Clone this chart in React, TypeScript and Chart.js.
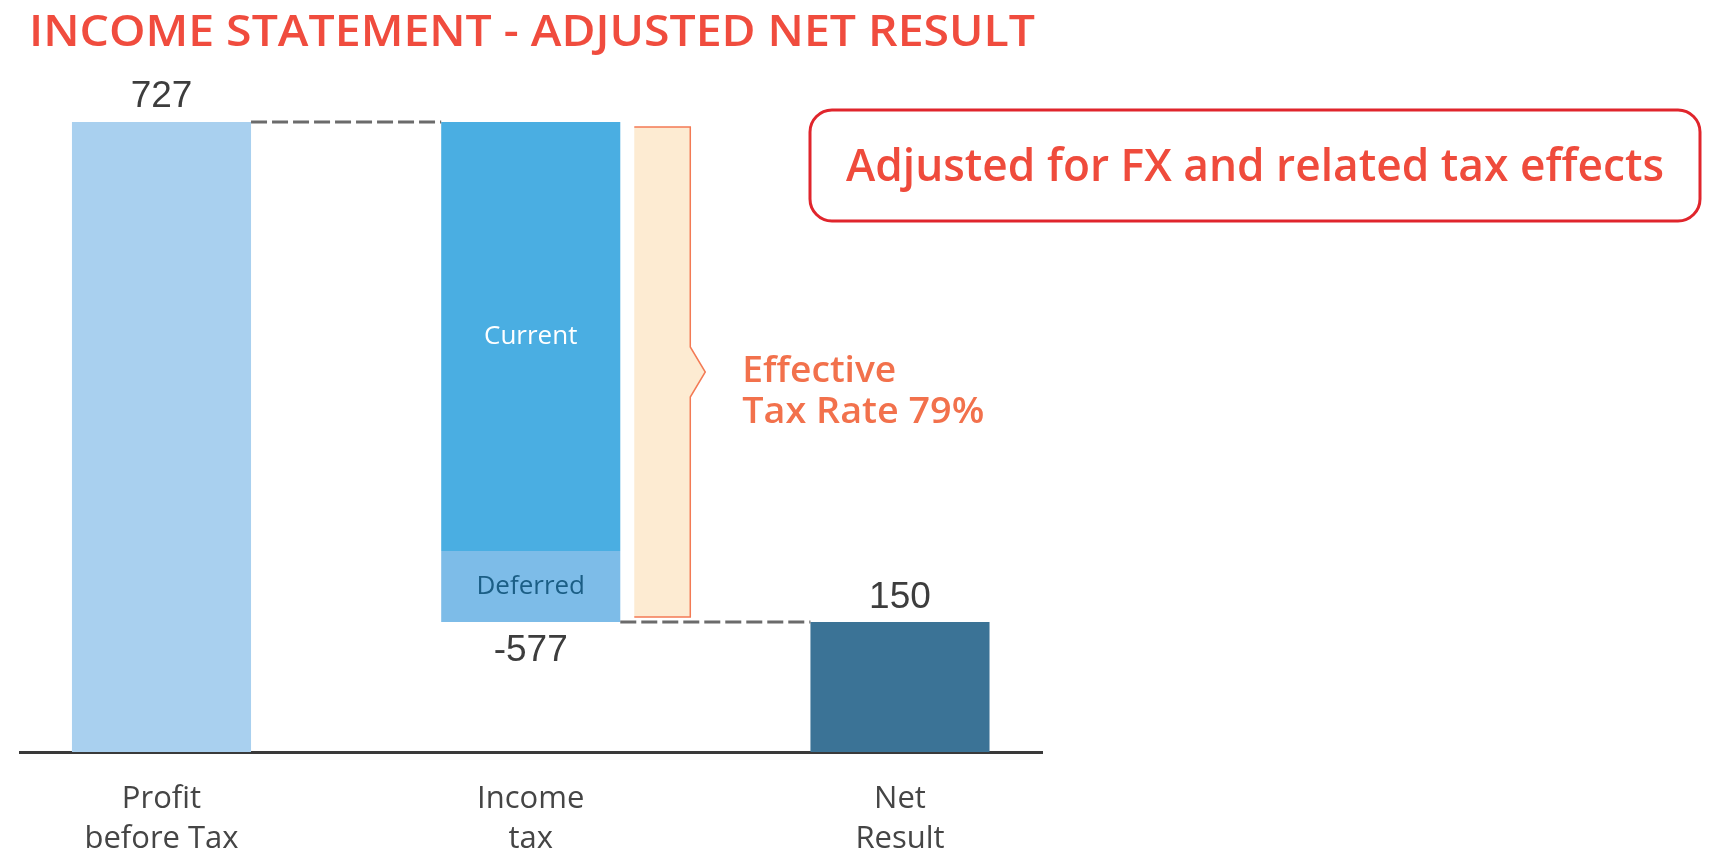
import React, { useEffect, useRef } from "react";
import { Chart, registerables } from "chart.js";

Chart.register(...registerables);

// ---- data ----
const categories: string[][] = [["Profit", "before Tax"], ["Income", "tax"], ["Net", "Result"]];
const profitBeforeTax = 727;
const taxCurrent = -495;
const taxDeferred = -82;
const netResult = 150;
const valueLabels = ["727", "-577", "150"];
const segmentLabels = ["Current", "Deferred"];
const titleText = "INCOME STATEMENT - ADJUSTED NET RESULT";
const noteText = "Adjusted for FX and related tax effects";
const rateLines = ["Effective", "Tax Rate 79%"];

const SANS = "'Open Sans', Lato, sans-serif";
const NUM = "'Liberation Sans', Arial, sans-serif";

function fitText(ctx: CanvasRenderingContext2D, text: string, x: number, y: number, width: number, align: CanvasTextAlign) {
  const w = ctx.measureText(text).width || 1;
  ctx.save();
  ctx.translate(x, y);
  ctx.scale(width / w, 1);
  ctx.textAlign = align;
  ctx.fillText(text, 0, 0);
  ctx.restore();
}

const overlayPlugin = {
  id: "overlay",
  afterDatasetsDraw(chart: any) {
    const ctx = chart.ctx as CanvasRenderingContext2D;
    const b0 = chart.getDatasetMeta(0).data[0];
    const bCur = chart.getDatasetMeta(1).data[0];
    const bDef = chart.getDatasetMeta(2).data[0];
    const b3 = chart.getDatasetMeta(3).data[0];
    const half0 = b0.width / 2;
    const half1 = bCur.width / 2;
    const half3 = b3.width / 2;
    const top0 = Math.min(b0.y, b0.base);
    const top1 = Math.min(bCur.y, bCur.base);
    const bottom1 = Math.max(bDef.y, bDef.base);
    const top3 = Math.min(b3.y, b3.base);

    ctx.save();
    // connectors
    ctx.strokeStyle = "#6b6b6b";
    ctx.lineWidth = 3;
    ctx.setLineDash([16, 5]);
    ctx.beginPath();
    ctx.moveTo(b0.x + half0, top0);
    ctx.lineTo(bCur.x - half1, top0);
    ctx.moveTo(bDef.x + half1, bottom1);
    ctx.lineTo(b3.x - half3, bottom1);
    ctx.stroke();
    ctx.setLineDash([]);

    // value labels
    ctx.fillStyle = "#3d3d3d";
    ctx.font = `37px ${NUM}`;
    ctx.textAlign = "center";
    ctx.textBaseline = "alphabetic";
    ctx.fillText(valueLabels[0], b0.x, top0 - 15);
    ctx.fillText(valueLabels[1], bDef.x, bottom1 + 39);
    ctx.fillText(valueLabels[2], b3.x, top3 - 14);

    // segment labels
    ctx.textBaseline = "middle";
    ctx.font = `26px ${SANS}`;
    ctx.fillStyle = "#ffffff";
    ctx.fillText(segmentLabels[0], bCur.x, (bCur.y + bCur.base) / 2);
    ctx.fillStyle = "#1b5e85";
    ctx.fillText(segmentLabels[1], bDef.x, (bDef.y + bDef.base) / 2);

    // bracket
    const top = top1 + 5;
    const bottom = bottom1 - 5;
    const left = bCur.x + half1 + 14;
    const right = left + 56;
    const mid = (top + bottom) / 2;
    const tip = right + 15;
    const path = () => {
      ctx.beginPath();
      ctx.moveTo(left, top);
      ctx.lineTo(right, top);
      ctx.lineTo(right, mid - 25);
      ctx.lineTo(tip, mid);
      ctx.lineTo(right, mid + 25);
      ctx.lineTo(right, bottom);
      ctx.lineTo(left, bottom);
    };
    path();
    ctx.closePath();
    ctx.fillStyle = "#fdebd2";
    ctx.fill();
    path();
    ctx.strokeStyle = "#f37a54";
    ctx.lineWidth = 1.5;
    ctx.stroke();

    // effective tax rate text
    ctx.textBaseline = "alphabetic";
    ctx.fillStyle = "#f2714c";
    ctx.font = `600 36px ${SANS}`;
    fitText(ctx, rateLines[0], right + 52, mid + 10, 154, "left");
    fitText(ctx, rateLines[1], right + 52, mid + 51, 242, "left");

    // title
    ctx.fillStyle = "#f04c3e";
    ctx.font = `600 44px ${SANS}`;
    fitText(ctx, titleText, 29, 46, 1006, "left");

    // note box
    ctx.strokeStyle = "#e0252c";
    ctx.lineWidth = 3;
    ctx.beginPath();
    (ctx as any).roundRect(810, 110, 890, 111, 22);
    ctx.stroke();
    ctx.fillStyle = "#ef4b3c";
    ctx.font = `600 45px ${SANS}`;
    fitText(ctx, noteText, 1255, 181, 818, "center");
    ctx.restore();
  },
};

export default function App() {
  const ref = useRef<HTMLCanvasElement | null>(null);
  useEffect(() => {
    if (!ref.current) return;
    const afterCurrent = profitBeforeTax + taxCurrent;
    const afterDeferred = afterCurrent + taxDeferred;
    const chart = new Chart(ref.current, {
      type: "bar",
      data: {
        datasets: [
          { data: [{ x: 0, y: [0, profitBeforeTax] }] as any, backgroundColor: "#a9d0ef" },
          { data: [{ x: 1, y: [profitBeforeTax, afterCurrent] }] as any, backgroundColor: "#4aaee2" },
          { data: [{ x: 1, y: [afterCurrent, afterDeferred] }] as any, backgroundColor: "#7dbce8" },
          { data: [{ x: 2, y: [0, netResult] }] as any, backgroundColor: "#3b7396" },
        ],
      },
      options: {
        animation: false,
        responsive: false,
        events: [],
        layout: { padding: { left: 20, right: 676, top: 122, bottom: 0 } },
        datasets: { bar: { grouped: false, categoryPercentage: 1, barPercentage: 0.485 } as any },
        plugins: { legend: { display: false }, tooltip: { enabled: false } },
        scales: {
          x: {
            type: "linear",
            min: -0.3832,
            max: 2.3846,
            offset: false,
            bounds: "data",
            grid: { display: false, drawTicks: false, offset: false },
            border: { display: true, color: "#3a3a3a", width: 3 },
            afterBuildTicks: (scale: any) => {
              scale.ticks = categories.map((_, i) => ({ value: i }));
            },
            ticks: {
              callback: (v: any) => categories[v as number] ?? "",
              color: "#454545",
              font: { family: SANS, size: 31, lineHeight: 40 / 31 },
              padding: 27,
              maxRotation: 0,
              autoSkip: false,
            },
          },
          y: { display: false, min: 0, max: profitBeforeTax },
        },
      },
      plugins: [overlayPlugin],
    });
    return () => chart.destroy();
  }, []);
  return (
    <div style={{ position: "absolute", left: 0, top: 0, width: 1718, height: 853, overflow: "hidden", background: "#fff" }}>
      <canvas ref={ref} width={1718} height={886} style={{ display: "block" }} />
    </div>
  );
}
